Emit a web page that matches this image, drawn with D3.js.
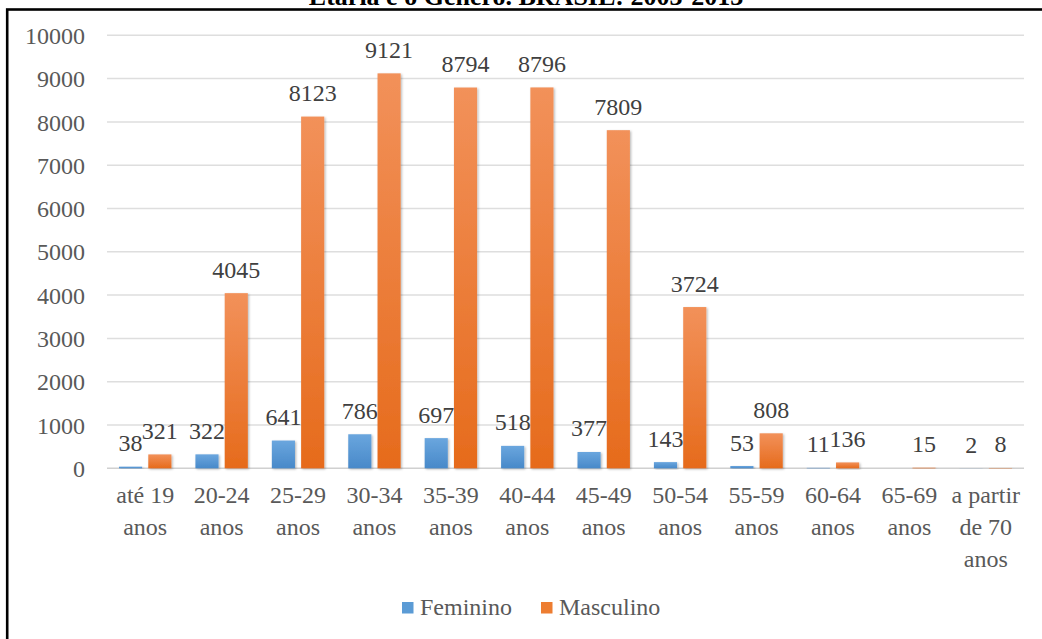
<!DOCTYPE html>
<html>
<head>
<meta charset="utf-8">
<script src="https://cdn.jsdelivr.net/npm/d3@7"></script>
<style>
  html, body { margin: 0; padding: 0; background: #fff; }
  svg { display: block; }
</style>
</head>
<body>
<svg id="chart" width="1042" height="639"></svg>
<script>
// Age bands (two-line labels split on "\n")
const categories = [
  "até 19\nanos", "20-24\nanos", "25-29\nanos", "30-34\nanos", "35-39\nanos",
  "40-44\nanos", "45-49\nanos", "50-54\nanos", "55-59\nanos", "60-64\nanos",
  "65-69\nanos", "a partir\nde 70\nanos"
];
const seriesNames = ["Feminino", "Masculino"];
const feminino  = [38, 322, 641, 786, 697, 518, 377, 143, 53, 11, null, 2];
const masculino = [321, 4045, 8123, 9121, 8794, 8796, 7809, 3724, 808, 136, 15, 8];
const yTicks = [0, 1000, 2000, 3000, 4000, 5000, 6000, 7000, 8000, 9000, 10000];
const title = "Etária e o Gênero. BRASIL: 2003-2013";

const svg = d3.select("#chart");
const W = 1042, H = 639;
const plot = { left: 107, right: 1024, top: 35.3, bottom: 468.3 };
const FONT = "Liberation Serif, Times New Roman, serif";

const colors = {
  Feminino:  { top: "#6AA6DE", bottom: "#4889C9", legend: "#5B9BD5" },
  Masculino: { top: "#F2915A", bottom: "#E66B1C", legend: "#ED7D31" }
};

const defs = svg.append("defs");
seriesNames.forEach(s => {
  const g = defs.append("linearGradient")
    .attr("id", "grad-" + s).attr("x1", 0).attr("y1", 0).attr("x2", 0).attr("y2", 1);
  g.append("stop").attr("offset", "0%").attr("stop-color", colors[s].top);
  g.append("stop").attr("offset", "100%").attr("stop-color", colors[s].bottom);
});
const shadow = defs.append("filter").attr("id", "shadow")
  .attr("x", "-30%").attr("y", "-10%").attr("width", "160%").attr("height", "130%");
shadow.append("feDropShadow").attr("dx", 1.2).attr("dy", 1).attr("stdDeviation", 1.3)
  .attr("flood-color", "#000").attr("flood-opacity", 0.28);

// Title (sits above the framed area)
svg.append("text")
  .attr("x", 526).attr("y", 5)
  .attr("text-anchor", "middle")
  .attr("font-family", FONT)
  .attr("font-weight", "bold")
  .attr("font-size", 26)
  .attr("fill", "#000")
  .text(title);

// Frame
svg.append("rect")
  .attr("x", 7.2).attr("y", 9.5)
  .attr("width", W + 20).attr("height", H + 20)
  .attr("fill", "none").attr("stroke", "#000").attr("stroke-width", 2.6);

// Scales
const x0 = d3.scaleBand().domain(categories).range([plot.left, plot.right]).padding(0);
const x1 = d3.scaleBand().domain(seriesNames)
  .range([12, x0.bandwidth() - 12]).paddingInner(0.21);
const y = d3.scaleLinear().domain([0, 10000]).range([plot.bottom, plot.top]);

// Gridlines
svg.append("g")
  .selectAll("line").data(yTicks).join("line")
  .attr("x1", plot.left).attr("x2", plot.right)
  .attr("y1", d => y(d)).attr("y2", d => y(d))
  .attr("stroke", d => d === 0 ? "#d0d0d0" : "#dedede")
  .attr("stroke-width", 1.5);

// Y axis labels
const yAxis = d3.axisLeft(y).tickValues(yTicks).tickSize(0).tickPadding(0).tickFormat(d3.format("d"));
const gy = svg.append("g").attr("transform", `translate(85,0)`).call(yAxis);
gy.select(".domain").remove();
gy.selectAll("text")
  .attr("font-family", FONT)
  .attr("font-size", 24)
  .attr("fill", "#595959")
  .attr("dy", "0.34em");

// X axis labels
const xAxis = d3.axisBottom(x0).tickSize(0).tickFormat("");
const gx = svg.append("g").attr("transform", `translate(0,${plot.bottom})`).call(xAxis);
gx.select(".domain").remove();
gx.selectAll(".tick").each(function(d) {
  const t = d3.select(this).append("text")
    .attr("text-anchor", "middle")
    .attr("font-family", FONT)
    .attr("font-size", 24)
    .attr("fill", "#595959");
  d.split("\n").forEach((line, i) => {
    t.append("tspan").attr("x", 0).attr("y", 34.5 + i * 32).text(line);
  });
});

// Bars
const rows = categories.map((c, i) => ({ cat: c, Feminino: feminino[i], Masculino: masculino[i] }));
const groups = svg.append("g").selectAll("g").data(rows).join("g")
  .attr("transform", d => `translate(${x0(d.cat)},0)`);

const cells = groups.selectAll("g.cell")
  .data(d => seriesNames.filter(s => d[s] != null).map(s => ({ s, v: d[s] })))
  .join("g").attr("class", "cell");

cells.append("rect")
  .attr("x", d => x1(d.s))
  .attr("y", d => y(d.v))
  .attr("width", x1.bandwidth())
  .attr("height", d => Math.max(0, y(0) - y(d.v)))
  .attr("fill", d => `url(#grad-${d.s})`)
  .attr("filter", "url(#shadow)");

// Value labels
cells.append("text")
  .attr("x", d => x1(d.s) + x1.bandwidth() / 2)
  .attr("y", d => y(d.v) - 15.5)
  .attr("text-anchor", "middle")
  .attr("font-family", FONT)
  .attr("font-size", 24)
  .attr("fill", "#404040")
  .text(d => d.v);

// Legend
const legend = svg.append("g").attr("transform", "translate(402,602)");
const legendItems = [
  { s: "Feminino", x: 0 },
  { s: "Masculino", x: 139 }
];
const li = legend.selectAll("g").data(legendItems).join("g")
  .attr("transform", d => `translate(${d.x},0)`);
li.append("rect").attr("width", 11.5).attr("height", 11.5)
  .attr("fill", d => colors[d.s].legend);
li.append("text")
  .attr("x", 18).attr("y", 13)
  .attr("font-family", FONT)
  .attr("font-size", 24)
  .attr("fill", "#595959")
  .text(d => d.s);
</script>
</body>
</html>
